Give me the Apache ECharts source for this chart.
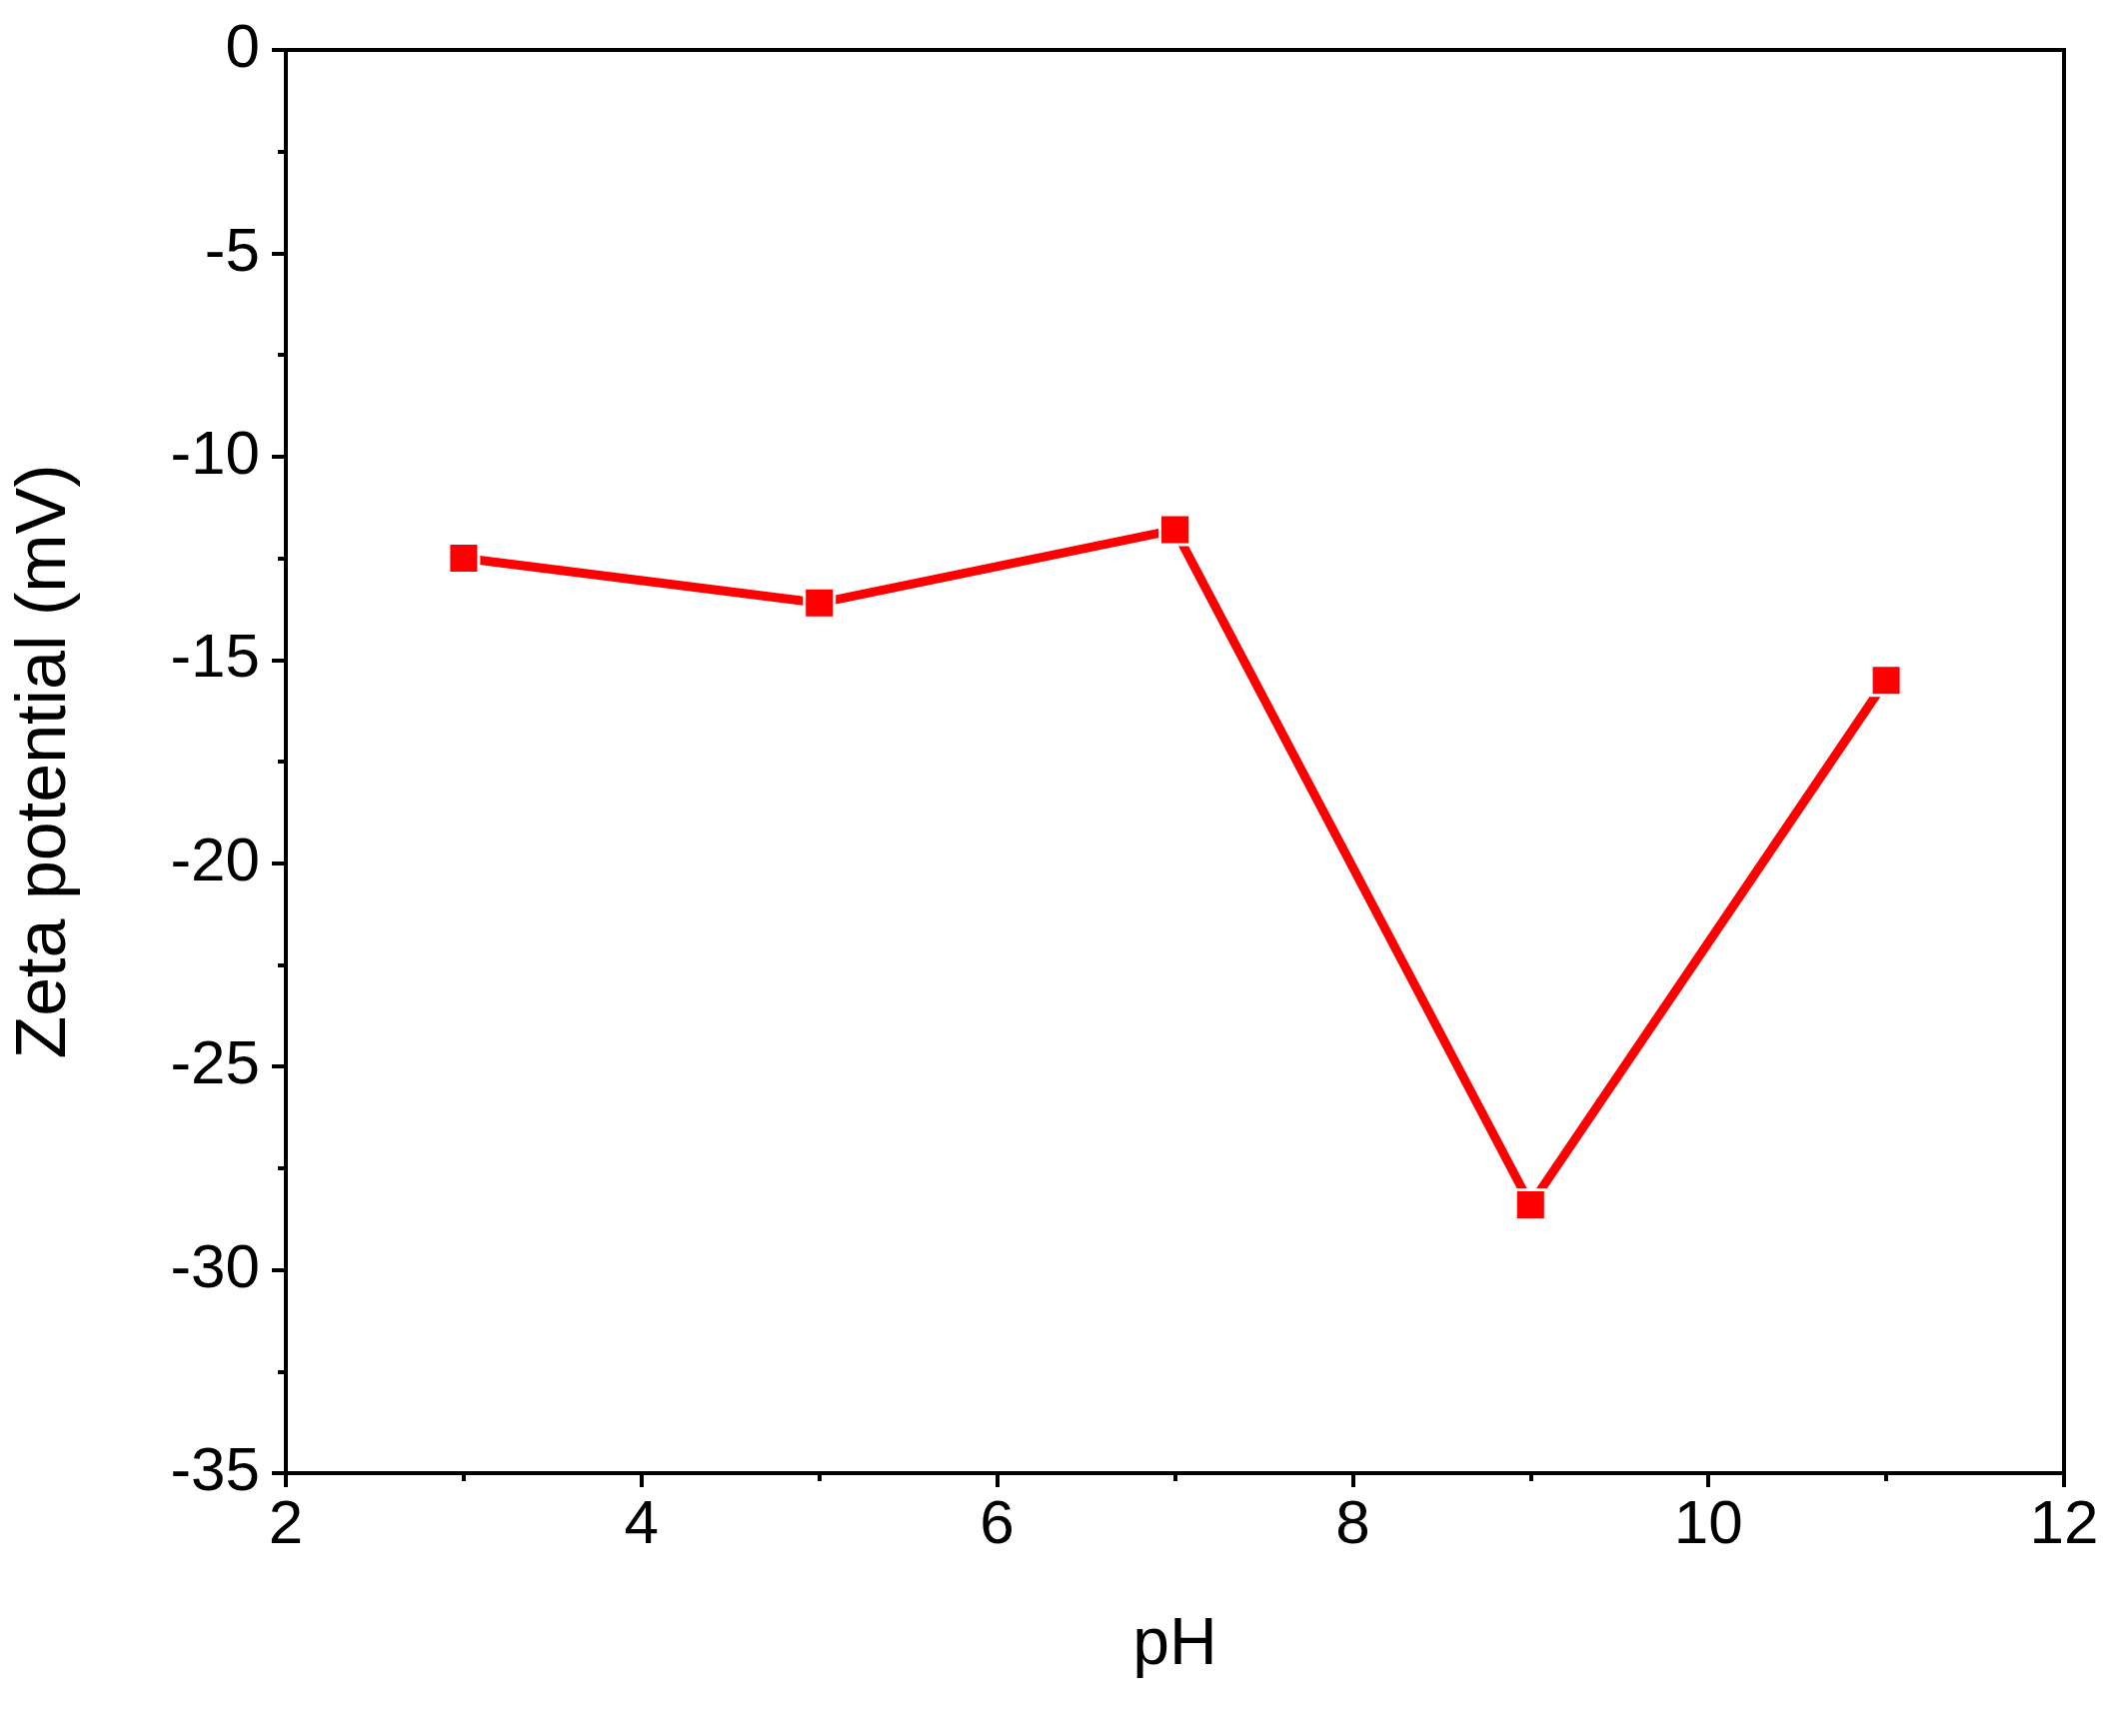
<!DOCTYPE html>
<html><head><meta charset="utf-8">
<script src="https://cdn.jsdelivr.net/npm/echarts@6/dist/echarts.min.js"></script>
<style>html,body{margin:0;padding:0;background:#fff}#c{width:2123px;height:1737px}</style>
</head><body><div id="c"></div>
<script>
const phValues = [3, 5, 7, 9, 11];
const zetaValues = [-12.5, -13.6, -11.8, -28.4, -15.5];
const data = phValues.map((x, i) => [x, zetaValues[i]]);
const font = 'Liberation Sans, Arial, sans-serif';
const chart = echarts.init(document.getElementById('c'));
chart.setOption({
  backgroundColor: '#fff',
  grid: { left: 286, right: 58, top: 50, bottom: 263, show: true, borderColor: '#000', borderWidth: 4 },
  xAxis: {
    type: 'value', min: 2, max: 12, interval: 2,
    name: 'pH', nameLocation: 'middle', nameGap: 140,
    nameTextStyle: { fontFamily: font, fontSize: 66, color: '#000' },
    axisLine: { onZero: false, lineStyle: { color: '#000', width: 4 } },
    axisTick: { length: 14, lineStyle: { color: '#000', width: 4 } },
    minorTick: { show: true, splitNumber: 2, length: 8, lineStyle: { color: '#000', width: 4 } },
    axisLabel: { fontFamily: font, fontSize: 62, color: '#000', margin: 22 },
    splitLine: { show: false }
  },
  yAxis: {
    type: 'value', min: -35, max: 0, interval: 5,
    name: 'Zeta potential (mV)', nameLocation: 'middle', nameGap: 205,
    nameTextStyle: { fontFamily: font, fontSize: 70, color: '#000' },
    axisLine: { onZero: false, lineStyle: { color: '#000', width: 4 } },
    axisTick: { length: 14, lineStyle: { color: '#000', width: 4 } },
    minorTick: { show: true, splitNumber: 2, length: 8, lineStyle: { color: '#000', width: 4 } },
    axisLabel: { fontFamily: font, fontSize: 62, color: '#000', margin: 26 },
    splitLine: { show: false }
  },
  series: [{
    type: 'line', data: data, symbol: 'rect', symbolSize: 30,
    lineStyle: { color: '#ff0000', width: 9 },
    itemStyle: { color: '#ff0000', borderColor: '#fff', borderWidth: 3 },
    animation: false
  }]
});
</script></body></html>
